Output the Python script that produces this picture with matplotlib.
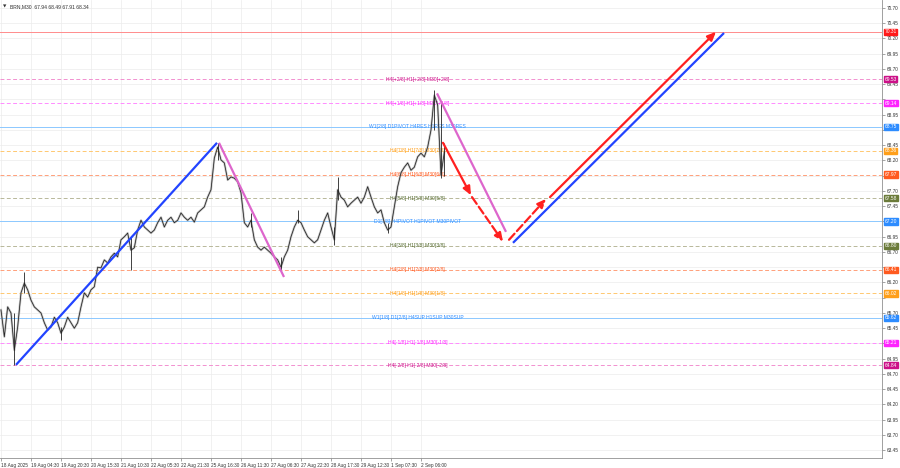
import matplotlib.pyplot as plt
import matplotlib.transforms as mtransforms
import numpy as np

plt.rcParams['font.family'] = ['Liberation Sans', 'DejaVu Sans']

# M30 closes, one sample every few bars
closes = [65.75, 65.31, 65.80, 65.70, 65.09, 65.47, 66.03, 66.19, 66.08, 65.91,
          65.80, 65.75, 65.70, 65.54, 65.42, 65.47, 65.63, 65.54, 65.37, 65.47,
          65.63, 65.54, 65.45, 65.54, 65.80, 66.03, 65.96, 66.08, 66.13, 66.45,
          66.44, 66.57, 66.52, 66.62, 66.68, 66.62, 66.90, 66.95, 67.01, 66.73,
          66.77, 67.06, 67.22, 67.11, 67.06, 67.01, 67.06, 67.18, 67.27, 67.11,
          67.22, 67.27, 67.18, 67.22, 67.34, 67.27, 67.22, 67.27, 67.19, 67.34,
          67.39, 67.44, 67.60, 67.72, 68.24, 68.42, 68.21, 68.16, 67.88, 67.93,
          67.91, 67.85, 67.67, 67.18, 67.11, 67.22, 66.90, 66.78, 66.73, 66.78,
          66.73, 66.68, 66.62, 66.57, 66.45, 66.62, 66.73, 66.95, 67.11, 67.22,
          67.18, 67.06, 66.95, 66.90, 66.85, 66.90, 67.06, 67.22, 67.34, 67.11,
          66.90, 67.72, 67.60, 67.55, 67.44, 67.50, 67.55, 67.60, 67.50, 67.60,
          67.77, 67.60, 67.44, 67.34, 67.39, 67.18, 67.06, 67.11, 67.44, 67.77,
          68.00, 68.09, 68.16, 68.04, 68.09, 68.26, 68.32, 68.26, 68.42, 68.70,
          69.27, 69.11, 67.96, 68.34]

# wick extremes
wick_idx = [4, 7, 18, 39, 65, 75, 84, 89, 100, 101, 116, 130, 132, 133]
wick_hi = [65.70, 66.37, 65.47, 66.95, 68.49, 67.34, 66.62, 67.39, 67.11, 67.93, 67.18, 69.36, 69.15, 68.49]
wick_lo = [64.85, 66.03, 65.26, 66.40, 68.21, 67.11, 66.40, 67.18, 66.81, 67.55, 67.01, 68.70, 67.91, 67.94]

# murrey / pivot levels
level_prices = [70.31, 69.53, 69.14, 68.75, 68.36, 67.97, 67.58, 67.20,
                66.80, 66.41, 66.02, 65.62, 65.21, 64.84]
level_names = ['', 'H4[+2/8] H1[+2/8] M30[+2/8]', 'H4[+1/8] H1[+1/8] M30[+1/8]',
               'W1[2/8] D1PIVOT H4RES H1RES M30RES', 'H4[7/8] H1[7/8] M30[7/8]',
               'H4[6/8] H1[6/8] M30[6/8]', 'H4[5/8] H1[5/8] M30[5/8]',
               'D1[1/8] H4PIVOT H1PIVOT M30PIVOT', 'H4[3/8] H1[3/8] M30[3/8]',
               'H4[2/8] H1[2/8] M30[2/8]', 'H4[1/8] H1[1/8] M30[1/8]',
               'W1[1/8] D1[2/8] H4SUP H1SUP M30SUP', 'H4[-1/8] H1[-1/8] M30[-1/8]',
               'H4[-2/8] H1[-2/8] M30[-2/8]']

# trend lines: (x0, p0, x1, p1) in sample index / price
blue_up = (4.5, 64.85, 64.8, 68.49)
pink_down1 = (65.4, 68.49, 84.9, 66.29)
pink_down2 = (130.8, 69.30, 151.5, 67.03)
blue_long = (153.6, 66.85, 216.9, 70.29)
red_arrows = [(132.6, 68.49, 141.0, 67.63, '-'),
              (141.3, 67.60, 150.6, 66.87, '--'),
              (152.4, 66.90, 163.5, 67.57, '--'),
              (164.7, 67.60, 214.5, 70.31, '-')]

tick_pos = [0, 9, 18, 27, 36, 45, 54, 63, 72, 81, 90, 99, 108, 117, 126]
tick_labels = ['18 Aug 2025', '19 Aug 04:30', '19 Aug 20:30', '20 Aug 15:30',
               '21 Aug 10:30', '22 Aug 05:30', '22 Aug 21:30', '25 Aug 16:30',
               '26 Aug 11:30', '27 Aug 06:30', '27 Aug 22:30', '28 Aug 17:30',
               '29 Aug 12:30', '1 Sep 07:30', '2 Sep 06:00']

# styles
line_cols = ['#ff8c8c', '#f290d0', '#ff8cff', '#8cc8ff', '#ffc870', '#ffa07a', '#b8b89a',
             '#8cc8ff', '#b8b89a', '#ffa07a', '#ffc870', '#8cc8ff', '#ff8cff', '#f290d0']
box_cols = ['#ff1a1a', '#cc1188', '#ff22ff', '#2d8cff', '#ff9f1a', '#ff5a1f', '#6b7b3a',
            '#2d8cff', '#6b7b3a', '#ff5a1f', '#ff9f1a', '#2d8cff', '#ff22ff', '#cc1188']
solid = [0, 3, 7, 11]

fig = plt.figure(figsize=(9, 4.68), dpi=100)
ax = fig.add_axes([0.0, 0.0214, 0.98, 0.9786])
ax.set_xlim(-0.3, 264.3)
ax.set_ylim(63.323, 70.831)

yt = np.arange(63.45, 70.71, 0.25)
ax.set_yticks(yt)
# labels hidden behind the level boxes stay blank
ax.set_yticklabels(['' if min(abs(v - p) for p in level_prices) < 0.07 else '%.2f' % v
                    for v in yt])
ax.yaxis.tick_right()
ax.set_xticks(tick_pos)
ax.set_xticklabels(tick_labels, ha='left')
ax.tick_params(axis='both', labelsize=3.4, length=2, width=0.5, color='#808080',
               pad=1.5, labelcolor='#333333')
ax.grid(True, color='#ececec', lw=0.5)
ax.set_axisbelow(True)
for s in ['top', 'left']:
    ax.spines[s].set_visible(False)
for s in ['right', 'bottom']:
    ax.spines[s].set_color('#909090')
    ax.spines[s].set_linewidth(0.6)

trans = mtransforms.blended_transform_factory(ax.transAxes, ax.transData)
for i, p in enumerate(level_prices):
    ls = '-' if i in solid else (0, (4, 2.5))
    ax.axhline(p, color=line_cols[i], lw=0.7, ls=ls, zorder=1)
    if level_names[i]:
        tc = '#556b2f' if box_cols[i] == '#6b7b3a' else box_cols[i]
        ax.text(125, p, level_names[i], fontsize=3.6, color=tc, ha='center',
                va='center', zorder=3)
    ax.text(1.003, p, '%.2f' % p, transform=trans, fontsize=3.5, color='white',
            va='center', ha='left', clip_on=False,
            bbox=dict(facecolor=box_cols[i], edgecolor=box_cols[i], pad=0.4))

x = np.arange(len(closes))
ax.plot(x, closes, color='#a0a0a0', lw=1.6, alpha=0.6, zorder=4)
ax.plot(x, closes, color='#222222', lw=0.55, zorder=5)
ax.vlines(wick_idx, wick_lo, wick_hi, color='#222222', lw=0.6, zorder=5)

for (x0, p0, x1, p1), c in [(blue_up, '#2244ff'), (pink_down1, '#dd66cc'),
                            (pink_down2, '#dd66cc'), (blue_long, '#2244ff')]:
    ax.plot([x0, x1], [p0, p1], color=c, lw=1.6, zorder=6, solid_capstyle='butt')

for x0, p0, x1, p1, ls in red_arrows:
    ax.annotate('', xy=(x1, p1), xytext=(x0, p0), zorder=7,
                arrowprops=dict(arrowstyle='-|>,head_length=0.5,head_width=0.22',
                                color='#ff2020', lw=1.6, ls=ls,
                                shrinkA=0, shrinkB=0))

fig.text(0.003, 0.99, '\u25bc', fontsize=3.2, color='#333333', va='top',
         family=['DejaVu Sans'])
fig.text(0.011, 0.99, 'BRN,M30  67.94 68.49 67.91 68.34', fontsize=3.6,
         color='#333333', va='top')

fig.savefig('out.png', dpi=100)
